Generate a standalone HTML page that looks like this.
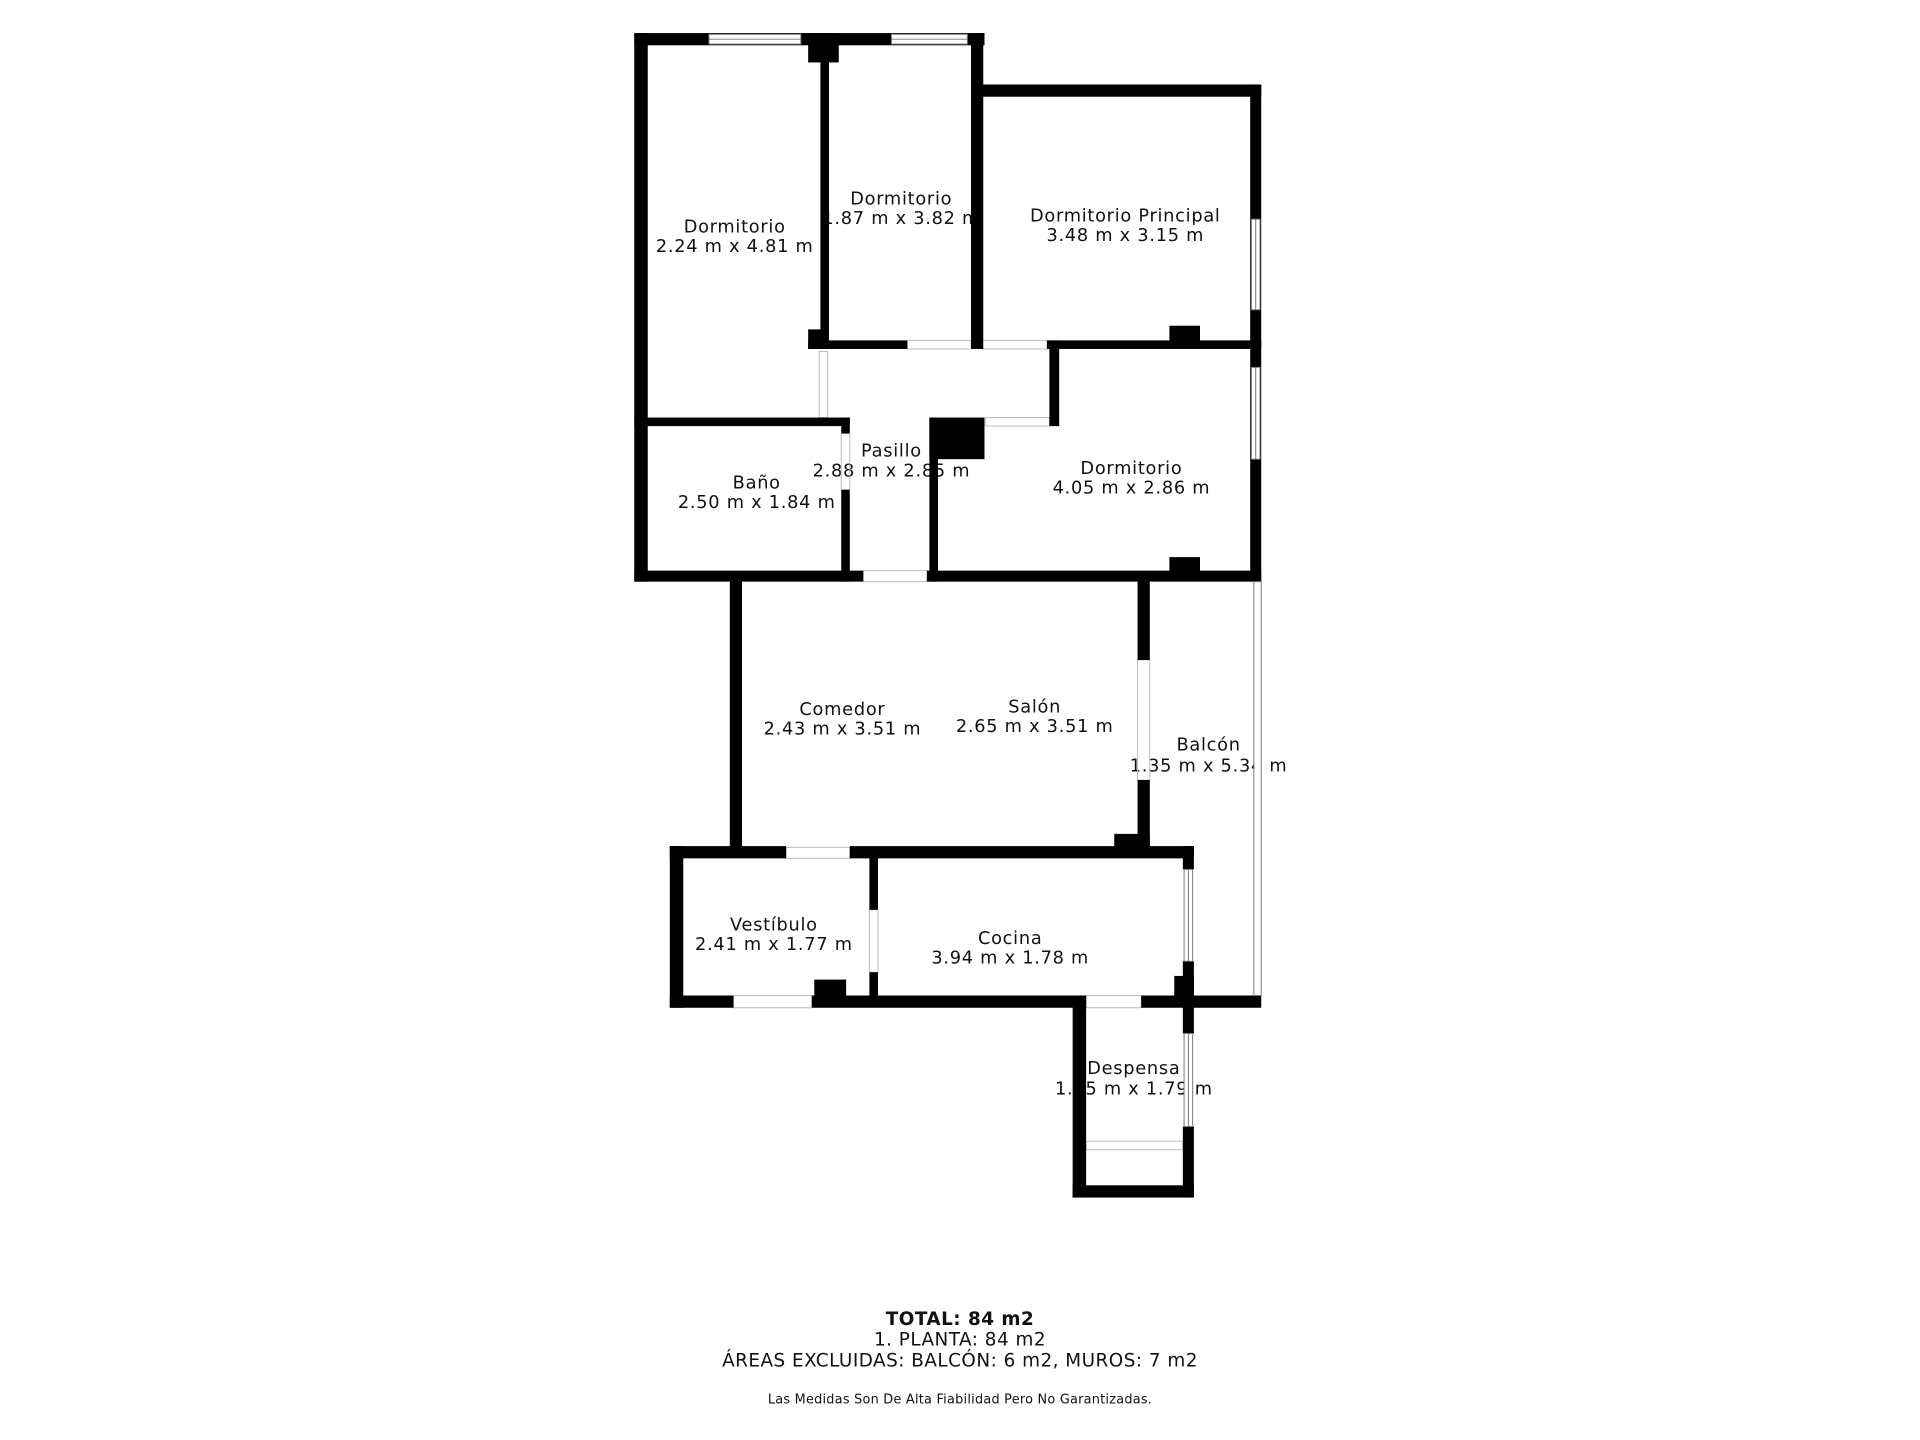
<!DOCTYPE html>
<html><head><meta charset="utf-8"><style>
html,body{margin:0;padding:0;background:#fff;}
svg{display:block}
text{font-family:"DejaVu Sans","Liberation Sans",sans-serif;fill:#111;}
</style></head><body>
<svg width="1920" height="1440" viewBox="0 0 1568 1176" xmlns="http://www.w3.org/2000/svg">
<rect width="1568" height="1176" fill="#fff"/>
<g font-size="14.5" text-anchor="middle" letter-spacing="0.6">
<text x="600" y="190">Dormitorio</text><text x="600" y="206">2.24 m x 4.81 m</text>
<text x="736" y="167">Dormitorio</text><text x="736" y="183">1.87 m x 3.82 m</text>
<text x="919" y="181">Dormitorio Principal</text><text x="919" y="197">3.48 m x 3.15 m</text>
<text x="728" y="373">Pasillo</text><text x="728" y="389">2.88 m x 2.85 m</text>
<text x="618" y="399">Baño</text><text x="618" y="415">2.50 m x 1.84 m</text>
<text x="924" y="387">Dormitorio</text><text x="924" y="403">4.05 m x 2.86 m</text>
<text x="688" y="584">Comedor</text><text x="688" y="600">2.43 m x 3.51 m</text>
<text x="845" y="582">Salón</text><text x="845" y="598">2.65 m x 3.51 m</text>
<text x="987" y="613">Balcón</text><text x="987" y="630">1.35 m x 5.34 m</text>
<text x="632" y="760">Vestíbulo</text><text x="632" y="776">2.41 m x 1.77 m</text>
<text x="825" y="771">Cocina</text><text x="825" y="787">3.94 m x 1.78 m</text>
<text x="926" y="877">Despensa</text><text x="926" y="894">1.25 m x 1.79 m</text>
</g>
<g stroke="#bbb" stroke-width="0.8" fill="none">
<rect x="741" y="278" width="52" height="7"/>
<rect x="802" y="278" width="53" height="7"/>
<rect x="805" y="341" width="52" height="7"/>
<rect x="669" y="287" width="7" height="54"/>
<rect x="687" y="354" width="7" height="46"/>
<rect x="705" y="466" width="52" height="9"/>
<rect x="929" y="539" width="10" height="98"/>
<rect x="642" y="692" width="52" height="9"/>
<rect x="710" y="743" width="7" height="51"/>
<rect x="599" y="813" width="64" height="10"/>
<rect x="887" y="813" width="45" height="10"/>
<rect x="887" y="932" width="79" height="7"/>
</g>
<g fill="#000">
<rect x="518" y="27" width="11" height="448"/>
<rect x="518" y="27" width="286" height="10"/>
<rect x="660" y="27" width="25" height="24"/>
<rect x="670" y="35" width="7" height="250"/>
<rect x="660" y="269" width="17" height="16"/>
<rect x="660" y="278" width="81" height="7"/>
<rect x="793" y="27" width="10" height="258"/>
<rect x="793" y="69" width="237" height="10"/>
<rect x="1021" y="69" width="9" height="406"/>
<rect x="855" y="278" width="175" height="7"/>
<rect x="955" y="266" width="25" height="13"/>
<rect x="857" y="278" width="8" height="70"/>
<rect x="759" y="341" width="45" height="34"/>
<rect x="759" y="341" width="7" height="134"/>
<rect x="518" y="341" width="176" height="7"/>
<rect x="687" y="341" width="7" height="13"/>
<rect x="687" y="400" width="7" height="75"/>
<rect x="518" y="466" width="187" height="9"/>
<rect x="757" y="466" width="273" height="9"/>
<rect x="955" y="455" width="25" height="12"/>
<rect x="596" y="471" width="10" height="223"/>
<rect x="929" y="471" width="10" height="68"/>
<rect x="929" y="637" width="10" height="57"/>
<rect x="910" y="681" width="29" height="19"/>
<rect x="547" y="691" width="95" height="10"/>
<rect x="694" y="691" width="281" height="10"/>
<rect x="547" y="691" width="11" height="132"/>
<rect x="547" y="813" width="52" height="10"/>
<rect x="663" y="813" width="224" height="10"/>
<rect x="932" y="813" width="98" height="10"/>
<rect x="665" y="800" width="26" height="13"/>
<rect x="710" y="700" width="7" height="43"/>
<rect x="710" y="794" width="7" height="19"/>
<rect x="966" y="691" width="9" height="19"/>
<rect x="966" y="785" width="9" height="59"/>
<rect x="959" y="797" width="16" height="16"/>
<rect x="876" y="813" width="11" height="165"/>
<rect x="876" y="968" width="99" height="10"/>
<rect x="966" y="920" width="9" height="58"/>
</g>
<g fill="#fff" stroke="#777" stroke-width="0.8">
<rect x="579" y="28" width="75" height="8"/><line x1="579" y1="32" x2="654" y2="32"/>
<rect x="728" y="28" width="62" height="8"/><line x1="728" y1="32" x2="790" y2="32"/>
<rect x="1022" y="179" width="7" height="74"/><line x1="1025.5" y1="179" x2="1025.5" y2="253"/>
<rect x="1022" y="300" width="7" height="75"/><line x1="1025.5" y1="300" x2="1025.5" y2="375"/>
<rect x="967" y="710" width="7" height="75"/><line x1="970.5" y1="710" x2="970.5" y2="785"/>
<rect x="967" y="844" width="7" height="76"/><line x1="970.5" y1="844" x2="970.5" y2="920"/>
<rect x="1024" y="475" width="6" height="338"/>
</g>
<g text-anchor="middle">
<text x="784" y="1082" font-size="15" font-weight="bold" letter-spacing="0.4">TOTAL: 84 m2</text>
<text x="784" y="1099" font-size="15" letter-spacing="0.4">1. PLANTA: 84 m2</text>
<text x="784" y="1116" font-size="15" letter-spacing="0.4">ÁREAS EXCLUIDAS: BALCÓN: 6 m2, MUROS: 7 m2</text>
<text x="784" y="1146" font-size="10.5" letter-spacing="0.2">Las Medidas Son De Alta Fiabilidad Pero No Garantizadas.</text>
</g>
</svg>
</body></html>
